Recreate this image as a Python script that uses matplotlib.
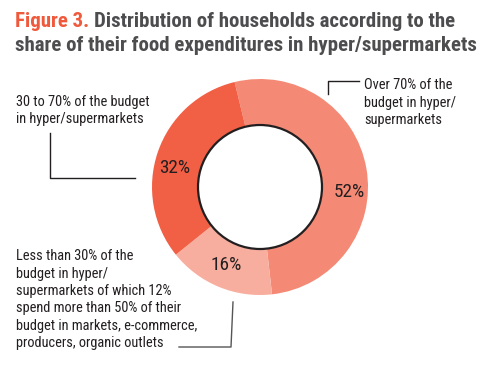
import matplotlib
matplotlib.use("Agg")
import matplotlib.pyplot as plt

categories = ["Over 70% of the\nbudget in hyper/\nsupermarkets",
              "Less than 30% of the\nbudget in hyper/\nsupermarkets of which 12%\nspend more than 50% of their\nbudget in markets, e-commerce,\nproducers, organic outlets",
              "30 to 70% of the budget\nin hyper/supermarkets"]
values = [52, 16, 32]
colors = ["#F48A75", "#F7AE9E", "#F15F45"]
title_prefix = "Figure 3."
title_line1 = "Distribution of households according to the"
title_line2 = "share of their food expenditures in hyper/supermarkets"

W, H = 497, 371
fig = plt.figure(figsize=(W/100, H/100), dpi=100)
ax = fig.add_axes([0, 0, 1, 1])
FONT = ['Roboto Condensed', 'DejaVu Sans']
renderer = fig.canvas.get_renderer()

def fit_size(s, target_px, weight='normal', base=10):
    t = fig.text(0, 0, s, fontsize=base, family=FONT, weight=weight)
    w = t.get_window_extent(renderer).width
    t.remove()
    return base * target_px / w

cx, cy, R, r = 260, H - 187, 108, 62
ax.pie(values, colors=colors, startangle=103.6, counterclock=False,
       center=(cx, cy), radius=R, wedgeprops=dict(width=R - r, linewidth=0),
       frame=True)
ax.set_xlim(0, W); ax.set_ylim(0, H); ax.set_aspect('equal'); ax.axis('off')
ax.add_patch(plt.Circle((cx, cy), r, fill=False, edgecolor='#231F20', linewidth=1.6))

pfs = fit_size("32%", 31)
pct_pos = [(349, 192), (226, 265), (174.5, 168)]
for v, (x, y) in zip(values, pct_pos):
    ax.text(x, H - y, f"{v}%", ha='center', va='center', fontsize=pfs,
            family=FONT, color='#231F20')

lfs = fit_size("30 to 70% of the budget", 134)
kw = dict(ha='left', va='baseline', fontsize=lfs, family=FONT, color='#231F20', linespacing=1.3)
ax.text(364, H - 124, categories[0], **kw)
ax.text(16, H - 123, categories[2], **kw)
ax.text(16, H - 347, categories[1], **kw)

lc = '#231F20'
ax.plot([328, 328, 359], [H - 94, H - 81, H - 81], color=lc, lw=1)
ax.plot([50, 50, 135], [H - 133, H - 178, H - 178], color=lc, lw=1)
ax.plot([233, 231, 179], [H - 302, H - 347, H - 347], color='#555555', lw=1)

tfs = fit_size(title_line2, 463, weight='bold')
tk = dict(fontsize=tfs, weight='bold', family=FONT, ha='left', va='baseline')
t0 = fig.text(15/W, 1 - 27/H, title_prefix + " ", color='#F05A3C', **tk)
bb = t0.get_window_extent(renderer)
t0.set_text(title_prefix)
fig.text(bb.x1/W, 1 - 27/H, title_line1, color='#4D4D4F', **tk)
fig.text(15/W, 1 - 51/H, title_line2, color='#4D4D4F', **tk)

fig.savefig("out.png", dpi=100)
